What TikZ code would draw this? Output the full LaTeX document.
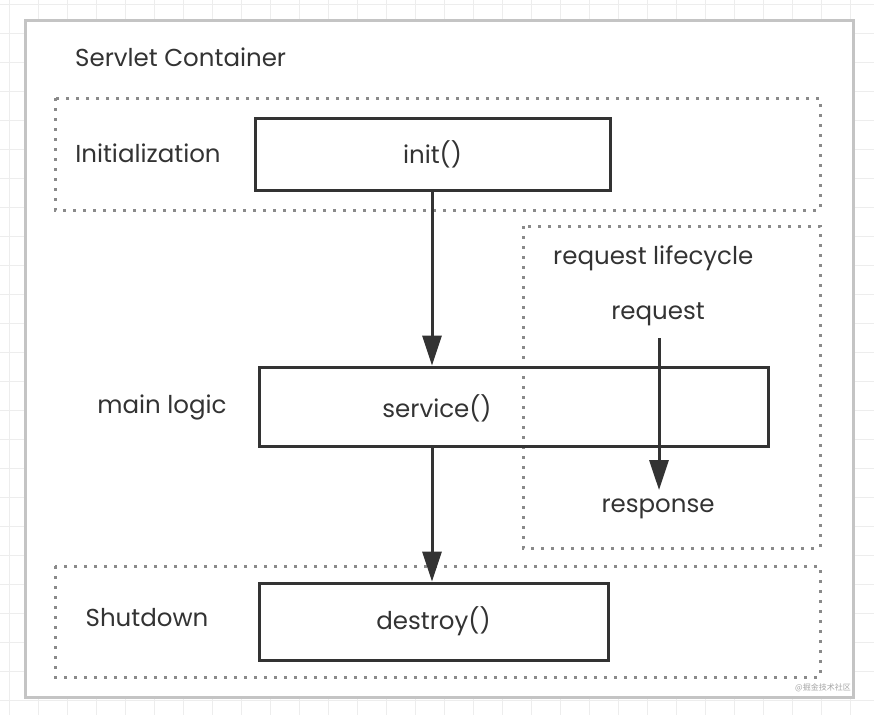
\documentclass[tikz,border=0pt]{standalone}
\usepackage{fontspec}
\setmainfont{Poppins}
\newfontfamily\cjk{Noto Sans CJK SC}
\usetikzlibrary{arrows.meta}
\definecolor{txt}{HTML}{333333}
\definecolor{dotc}{HTML}{8A8A8A}
\definecolor{gridc}{HTML}{EDEDED}
\definecolor{frame}{HTML}{C4C4C4}
\tikzset{
  dotbox/.style={draw=dotc, line width=3pt, dash pattern=on 3pt off 7pt},
  fnbox/.style={draw=black!80, line width=3pt},
  lbl/.style={text=txt, font=\fontsize{24.5}{28}\selectfont, inner sep=0pt},
  flow/.style={draw=black!80, line width=3pt, -{Triangle[length=30pt,width=19pt]}}
}
\begin{document}
\begin{tikzpicture}[x=1pt,y=-1pt]
\useasboundingbox (0,0) rectangle (874,715);
\fill[white] (0,0) rectangle (874,715);
% background grid
\foreach \gx in {9,38,...,874} \draw[gridc, line width=1pt] (\gx,0) -- (\gx,715);
\foreach \gy in {4,33,...,715} \draw[gridc, line width=1pt] (0,\gy) -- (874,\gy);
% container
\draw[frame, fill=white, line width=3pt] (25,20) rectangle (853,697);
\node[lbl, anchor=west] (title) at (75,57) {Servlet Container};
% dotted regions
\draw[dotbox] (55,98) rectangle (820,210);
\draw[dotbox] (523,226) rectangle (820,548);
\draw[dotbox] (55,566) rectangle (820,677);
% labels
\node[lbl] (initlbl) at (148,153) {Initialization};
\node[lbl] (mainlbl) at (162,407) {main logic};
\node[lbl] (shutlbl) at (147,618) {Shutdown};
\node[lbl, anchor=west] (rlc) at (553,258) {request lifecycle};
% function boxes
\node[fnbox, lbl, minimum width=355pt, minimum height=72pt] (init) at (432.5,154) {init()};
\node[fnbox, minimum width=509pt, minimum height=79pt, inner sep=0pt] (service) at (513.5,406.5) {};
\node[lbl] (servicetxt) at (437,408) {service()};
\node[fnbox, lbl, minimum width=349pt, minimum height=77pt] (destroy) at (433.5,621.5) {destroy()};
% request / response
\node[lbl] (req) at (658,314) {request};
\node[lbl] (resp) at (658,509) {response};
\coordinate (reqtop) at (659,338);
\coordinate (reqend) at (659,490);
% connectors
\draw[flow] (init.south -| 432,0) -- (service.north -| 432,0);
\draw[flow] (service.south -| 432,0) -- (destroy.north -| 432,0);
\draw[flow] (reqtop) -- (reqend);
% watermark
\node[text=black!35, font=\cjk\fontsize{8}{9}\selectfont, inner sep=0pt, anchor=east] (wm) at (851,688) {@掘金技术社区};
\end{tikzpicture}
\end{document}
